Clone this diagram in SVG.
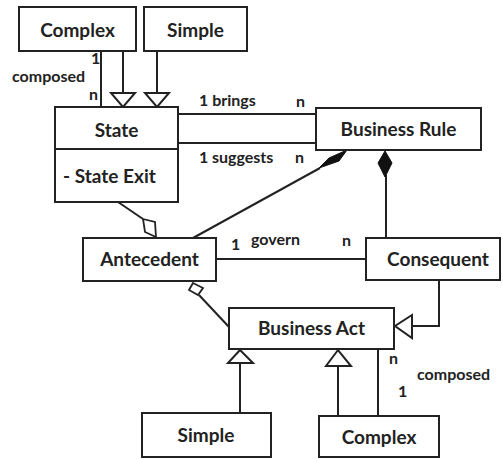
<svg xmlns="http://www.w3.org/2000/svg" width="503" height="459" viewBox="0 0 503 459">
<style>
.box{fill:#fff;stroke:#222;stroke-width:2}
.ln{fill:none;stroke:#222;stroke-width:2}
.tri{fill:#fff;stroke:#222;stroke-width:2;stroke-linejoin:miter}
.hd{fill:#fff;stroke:#222;stroke-width:1.8}
.fd{fill:#111;stroke:#111;stroke-width:1}
.t{font-family:Lato,"Open Sans",sans-serif;font-weight:bold;font-size:19px;fill:#222;text-anchor:middle}
.s{font-family:Lato,"Open Sans",sans-serif;font-weight:bold;font-size:16px;fill:#222}
</style>
<rect width="503" height="459" fill="#fff"/>
<g id="connectors">
  <line class="ln" x1="101" y1="51" x2="101" y2="107"/>
  <line class="ln" x1="123" y1="51" x2="123" y2="93"/>
  <polygon class="tri" points="111,93 135,93 123,107"/>
  <line class="ln" x1="157" y1="51" x2="157" y2="93"/>
  <polygon class="tri" points="145,93 169,93 157,107"/>
  <line class="ln" x1="178" y1="114" x2="316" y2="114"/>
  <line class="ln" x1="178" y1="143" x2="316" y2="143"/>
  <line class="ln" x1="118" y1="202" x2="143" y2="219"/>
  <polygon class="hd" points="143,219 155,222 156,237 145,232"/>
  <line class="ln" x1="193" y1="238" x2="320" y2="168"/>
  <polygon class="fd" points="319,168 329,158 347,150 339,161"/>
  <line class="ln" x1="386" y1="175" x2="386" y2="238"/>
  <polygon class="fd" points="385,151 392,163 385,177 378,163"/>
  <line class="ln" x1="216" y1="259" x2="366" y2="259"/>
  <line class="ln" x1="229" y1="327" x2="199" y2="295"/>
  <polygon class="hd" points="193,283 203,288 198,295 189,290"/>
  <polyline class="ln" points="439,280 439,326 412,326"/>
  <polygon class="tri" points="412,315 412,338 395,326"/>
  <line class="ln" x1="240" y1="413" x2="240" y2="363"/>
  <polygon class="tri" points="228,363 253,363 240,350"/>
  <line class="ln" x1="338" y1="416" x2="338" y2="366"/>
  <polygon class="tri" points="326,366 351,366 338,350"/>
  <line class="ln" x1="378" y1="349" x2="378" y2="416"/>
</g>
<g id="labels">
  <text class="s" x="91" y="64">1</text>
  <text class="s" x="12" y="82">composed</text>
  <text class="s" x="89" y="100">n</text>
  <text class="s" x="199" y="106">1 brings</text>
  <text class="s" x="296" y="107">n</text>
  <text class="s" x="199" y="163">1</text>
  <text class="s" x="212" y="163">suggests</text>
  <text class="s" x="295" y="163">n</text>
  <text class="s" x="231" y="250">1</text>
  <text class="s" x="251" y="245">govern</text>
  <text class="s" x="342" y="246">n</text>
  <text class="s" x="389" y="364">n</text>
  <text class="s" x="417" y="380">composed</text>
  <text class="s" x="398" y="397">1</text>
</g>
<g id="complex-top"><rect class="box" x="19" y="7" width="117" height="44"/><text class="t" x="77.5" y="37">Complex</text></g>
<g id="simple-top"><rect class="box" x="144" y="7" width="103" height="44"/><text class="t" x="195.5" y="37">Simple</text></g>
<g id="state"><rect class="box" x="55" y="107" width="123" height="95"/><line class="ln" x1="55" y1="149" x2="178" y2="149"/><text class="t" x="116.5" y="137">State</text><text class="t" x="63" y="183" style="text-anchor:start">- State Exit</text></g>
<g id="business-rule"><rect class="box" x="316" y="108" width="165" height="42"/><text class="t" x="398.5" y="136">Business Rule</text></g>
<g id="antecedent"><rect class="box" x="83" y="238" width="133" height="43"/><text class="t" x="149.5" y="266">Antecedent</text></g>
<g id="consequent"><rect class="box" x="366" y="238" width="134" height="42"/><text class="t" x="438" y="266">Consequent</text></g>
<g id="business-act"><rect class="box" x="229" y="308" width="165" height="41"/><text class="t" x="311.5" y="335">Business Act</text></g>
<g id="simple-bottom"><rect class="box" x="142" y="413" width="129" height="44"/><text class="t" x="206" y="442">Simple</text></g>
<g id="complex-bottom"><rect class="box" x="319" y="416" width="120" height="41"/><text class="t" x="379" y="444">Complex</text></g>
</svg>
